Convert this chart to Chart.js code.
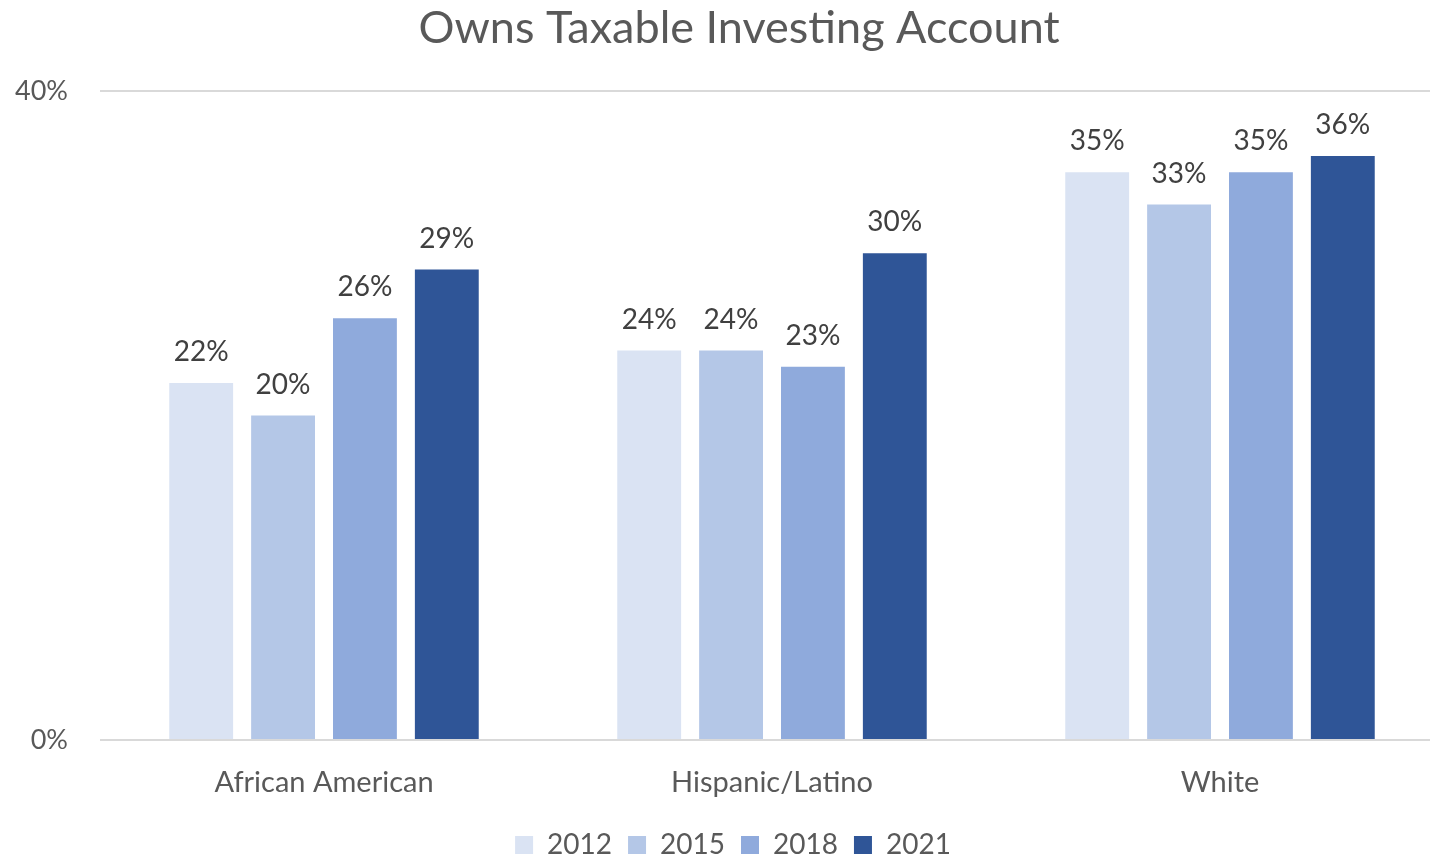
<!DOCTYPE html>
<html>
<head>
<meta charset="utf-8">
<script src="https://cdn.jsdelivr.net/npm/chart.js@4.4.1/dist/chart.umd.min.js"></script>
<style>
  html, body { margin: 0; padding: 0; background: #ffffff; }
  #wrap { width: 1430px; height: 856px; position: relative; }
</style>
</head>
<body>
<div id="wrap"><canvas id="chart" width="1430" height="856"></canvas></div>
<script>
const categories = ['African American', 'Hispanic/Latino', 'White'];
const years = ['2012', '2015', '2018', '2021'];
const values2012 = [22, 24, 35];
const values2015 = [20, 24, 33];
const values2018 = [26, 23, 35];
const values2021 = [29, 30, 36];
const yTicks = [0, 40];

const seriesValues = [values2012, values2015, values2018, values2021];
const seriesColors = ['#dae3f3', '#b4c7e7', '#8faadc', '#2f5597'];
const FONT = 'Lato, "Open Sans", sans-serif';

// Percent labels above each bar
const barLabels = {
  id: 'barLabels',
  afterDatasetsDraw(chart) {
    const ctx = chart.ctx;
    ctx.save();
    ctx.font = '28px ' + FONT;
    ctx.fillStyle = '#404040';
    ctx.textAlign = 'center';
    ctx.textBaseline = 'middle';
    chart.data.datasets.forEach((ds, i) => {
      chart.getDatasetMeta(i).data.forEach((bar, j) => {
        ctx.fillText(ds.data[j] + '%', bar.x, bar.y - 31);
      });
    });
    ctx.restore();
  }
};

// Fixed legend band; category axis runs a little past the right edge;
// title and legend sit slightly right of centre
const layoutTweaks = {
  id: 'layoutTweaks',
  beforeInit(chart) {
    const fit = chart.legend.fit;
    chart.legend.fit = function () {
      fit.call(this);
      this.height = 41;
    };
  },
  afterLayout(chart) {
    const x = chart.scales.x;
    x.right += 14;
    x.width += 14;
    x.configure();
    chart.titleBlock.left += 24;
    chart.titleBlock.right += 24;
    chart.legend.left += 18;
    chart.legend.right += 18;
  }
};

new Chart(document.getElementById('chart'), {
  type: 'bar',
  data: {
    labels: categories,
    datasets: years.map((y, i) => ({
      label: y,
      data: seriesValues[i],
      backgroundColor: seriesColors[i],
      borderWidth: 0,
      categoryPercentage: 0.731,
      barPercentage: 0.78
    }))
  },
  options: {
    responsive: false,
    animation: false,
    layout: { padding: 0 },
    plugins: {
      title: {
        display: true,
        text: 'Owns Taxable Investing Account',
        color: '#595959',
        font: { family: FONT, size: 45, weight: 'normal' },
        padding: { top: 1, bottom: 36 }
      },
      legend: {
        position: 'bottom',
        labels: {
          color: '#595959',
          font: { family: FONT, size: 28 },
          boxWidth: 18,
          boxHeight: 18,
          padding: 16
        }
      },
      tooltip: { enabled: false }
    },
    scales: {
      x: {
        grid: { display: false },
        border: { display: false },
        ticks: {
          color: '#595959',
          font: { family: FONT, size: 29 },
          padding: 17
        },
        afterFit(scale) { scale.height = 75; }
      },
      y: {
        min: 0,
        max: 40,
        afterBuildTicks(scale) { scale.ticks = yTicks.map(v => ({ value: v })); },
        grid: { color: '#d9d9d9', lineWidth: 2, drawTicks: false },
        border: { display: false },
        ticks: {
          color: '#595959',
          font: { family: FONT, size: 27 },
          padding: 32,
          callback: v => v + '%'
        },
        afterFit(scale) { scale.width = 100; }
      }
    }
  },
  plugins: [barLabels, layoutTweaks]
});
</script>
</body>
</html>
